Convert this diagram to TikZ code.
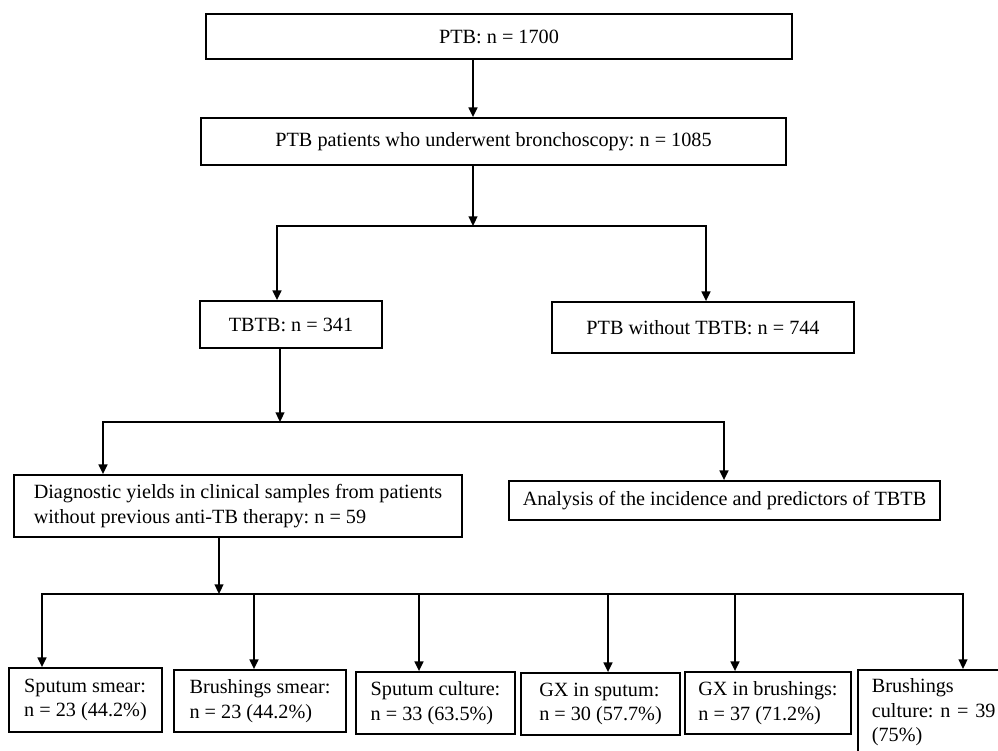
\documentclass[tikz,border=0pt]{standalone}
\usepackage{fontspec}
\setmainfont{Liberation Serif}
\usetikzlibrary{arrows.meta}

\tikzset{
    box/.style={draw, line width=1pt, inner sep=0pt, font=\fontsize{11.5}{14}\selectfont\frenchspacing},
    arr/.style={line width=1pt, -{Triangle[length=5.5pt, width=5pt]}}
}

\begin{document}
\begin{tikzpicture}[x=0.02cm, y=-0.02cm]
    \useasboundingbox (0, 0) rectangle (998, 751);
    % first tier
    \node[box, minimum width=11.72cm, minimum height=0.9cm] (ptb) at (499, 36.5) {PTB: n = 1700};
    \node[box, minimum width=11.7cm, minimum height=0.94cm] (bronch) at (493.5, 141.5)
        {PTB patients who underwent bronchoscopy: n = 1085};
    \node[box, minimum width=3.64cm, minimum height=0.94cm] (tbtb) at (291, 324.5) {TBTB: n = 341};
    \node[box, minimum width=6.04cm, minimum height=1.02cm] (notbtb) at (703, 327.5)
        {PTB without TBTB: n = 744};
    % second tier
    \node[box, align=left, minimum width=8.96cm, minimum height=1.24cm] (diag) at (238, 506)
        {Diagnostic yields in clinical samples from patients\\without previous anti-TB therapy: n = 59};
    \node[box, minimum width=8.62cm, minimum height=0.78cm] (anal) at (724.5, 500.5)
        {Analysis of the incidence and predictors of TBTB};
    % samples
    \node[box, align=left, minimum width=3.06cm, minimum height=1.28cm] (ssmear) at (85.5, 700)
        {Sputum smear:\\n = 23 (44.2\%)};
    \node[box, align=left, minimum width=3.44cm, minimum height=1.24cm] (bsmear) at (260, 701)
        {Brushings smear:\\n = 23 (44.2\%)};
    \node[box, align=left, minimum width=3.18cm, minimum height=1.24cm] (sculture) at (435.5, 703)
        {Sputum culture:\\n = 33 (63.5\%)};
    \node[box, align=left, minimum width=3.18cm, minimum height=1.24cm] (gxsput) at (600.5, 704)
        {GX in sputum:\\n = 30 (57.7\%)};
    \node[box, align=left, minimum width=3.32cm, minimum height=1.24cm] (gxbrush) at (768, 703)
        {GX in brushings:\\n = 37 (71.2\%)};
    % cut by the page edge
    \node[box, anchor=north west, align=left, text width=3cm, inner xsep=0.28cm,
        inner ysep=0.17cm] (bculture) at (857, 669)
        {Brushings\\culture: n = 39\\(75\%)};

    % connectors
    \coordinate (j1) at (473, 226);
    \coordinate (j1l) at (277, 226);
    \coordinate (j1r) at (706, 226);
    \draw[arr] (ptb.south -| j1) -- (bronch.north -| j1);
    \draw[arr] (bronch.south -| j1) -- (j1);
    \draw[arr] (j1) -| (tbtb.north -| j1l);
    \draw[arr] (j1) -| (notbtb.north -| j1r);

    \coordinate (j2) at (280, 422);
    \coordinate (j2l) at (103, 422);
    \coordinate (j2r) at (724, 422);
    \draw[arr] (tbtb.south -| j2) -- (j2);
    \draw[arr] (j2) -| (diag.north -| j2l);
    \draw[arr] (j2) -| (anal.north -| j2r);

    \coordinate (j3) at (219, 594);
    \draw[arr] (diag.south -| j3) -- (j3);
    \foreach \b/\x in {ssmear/42, bsmear/254, sculture/419, gxsput/608, gxbrush/735, bculture/963}
        \draw[arr] (j3) -| (\b.north -| \x, 0);
\end{tikzpicture}
\end{document}
